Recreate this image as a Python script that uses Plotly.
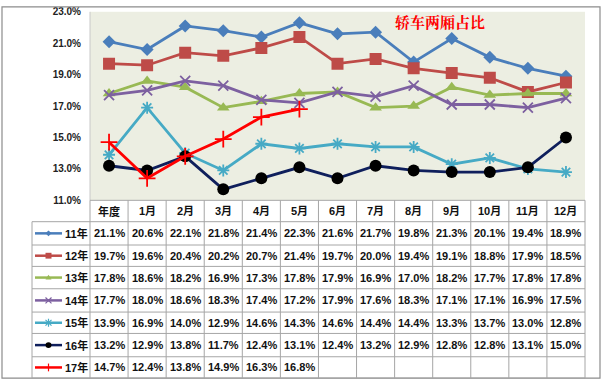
import plotly.graph_objects as go

W, H = 607, 389

categories = ["年度", "1月", "2月", "3月", "4月", "5月", "6月", "7月", "8月", "9月", "10月", "11月", "12月"]
series_names = ["11年", "12年", "13年", "14年", "15年", "16年", "17年"]
s11 = [21.1, 20.6, 22.1, 21.8, 21.4, 22.3, 21.6, 21.7, 19.8, 21.3, 20.1, 19.4, 18.9]
s12 = [19.7, 19.6, 20.4, 20.2, 20.7, 21.4, 19.7, 20.0, 19.4, 19.1, 18.8, 17.9, 18.5]
s13 = [17.8, 18.6, 18.2, 16.9, 17.3, 17.8, 17.9, 16.9, 17.0, 18.2, 17.7, 17.8, 17.8]
s14 = [17.7, 18.0, 18.6, 18.3, 17.4, 17.2, 17.9, 17.6, 18.3, 17.1, 17.1, 16.9, 17.5]
s15 = [13.9, 16.9, 14.0, 12.9, 14.6, 14.3, 14.6, 14.4, 14.4, 13.3, 13.7, 13.0, 12.8]
s16 = [13.2, 12.9, 13.8, 11.7, 12.4, 13.1, 12.4, 13.2, 12.9, 12.8, 12.8, 13.1, 15.0]
s17 = [14.7, 12.4, 13.8, 14.9, 16.3, 16.8]
all_series = [s11, s12, s13, s14, s15, s16, s17]
y_ticks = [11, 13, 15, 17, 19, 21, 23]
title_text = "轿车两厢占比"

line_colors = ["#4A7EBB", "#BE4B48", "#98B954", "#7D60A0", "#46AAC5", "#0F1F5C", "#FF0000"]
marker_colors = ["#4A7EBB", "#BE4B48", "#98B954", "#7D60A0", "#46AAC5", "#000000", "#FF0000"]
symbols = ["diamond", "square", "triangle-up", "x-thin-open", "asterisk-open", "circle", "cross-thin-open"]
msizes = [10, 12, 11, 10, 10, 12, 12]

FONT = "Arial, Liberation Sans, Noto Sans CJK SC, sans-serif"

# layout geometry (pixels)
PX0, PX1 = 90, 585
PY0, PY1 = 7, 201
LBL_X0 = 32
row_lines = [223, 247, 269, 292, 316, 338, 362, 384]


def fx(px):
    return px / W


def fy(py):
    return 1 - py / H


fig = go.Figure()

for name, vals, lc, mc, sym, ms in zip(series_names, all_series, line_colors, marker_colors, symbols, msizes):
    open_sym = sym.endswith("open")
    fig.add_trace(go.Scatter(
        x=list(range(len(vals))), y=vals, mode="lines+markers", name=name,
        line=dict(color=lc, width=2.8),
        marker=dict(symbol=sym, size=ms, color=mc,
                    line=dict(color=mc, width=1.8 if open_sym else 0)),
        showlegend=False, hoverinfo="skip",
    ))

ncol = len(categories)
colw = (PX1 - PX0) / ncol

shapes = []
annotations = []
grid_col = "#A6A6A6"


def path(points, close=True):
    s = "M " + " L ".join("%.5f,%.5f" % (fx(a), fy(b)) for a, b in points)
    return s + (" Z" if close else "")


# legend samples in the label column
for i, (lc, mc, sym) in enumerate(zip(line_colors, marker_colors, symbols)):
    yc = (row_lines[i] + row_lines[i + 1]) / 2
    xa, xb, xm = 35, 62, 48.5
    shapes.append(dict(type="line", xref="paper", yref="paper", x0=fx(xa), x1=fx(xb), y0=fy(yc), y1=fy(yc),
                       line=dict(color=lc, width=2.5)))
    r = 3
    if sym == "diamond":
        shapes.append(dict(type="path", xref="paper", yref="paper",
                           path=path([(xm, yc - r), (xm + r, yc), (xm, yc + r), (xm - r, yc)]),
                           fillcolor=mc, line=dict(width=0)))
    elif sym == "square":
        shapes.append(dict(type="rect", xref="paper", yref="paper", x0=fx(xm - 3), x1=fx(xm + 3),
                           y0=fy(yc + 3), y1=fy(yc - 3), fillcolor=mc, line=dict(width=0)))
    elif sym == "triangle-up":
        shapes.append(dict(type="path", xref="paper", yref="paper",
                           path=path([(xm, yc - r), (xm + r, yc + 2), (xm - r, yc + 2)]),
                           fillcolor=mc, line=dict(width=0)))
    elif sym.startswith("x"):
        shapes.append(dict(type="path", xref="paper", yref="paper",
                           path=path([(xm - r, yc - r), (xm + r, yc + r)], False) + " " +
                           path([(xm - r, yc + r), (xm + r, yc - r)], False),
                           line=dict(color=mc, width=1.2)))
    elif sym.startswith("asterisk"):
        shapes.append(dict(type="path", xref="paper", yref="paper",
                           path=path([(xm - r, yc - r), (xm + r, yc + r)], False) + " " +
                           path([(xm - r, yc + r), (xm + r, yc - r)], False) + " " +
                           path([(xm, yc - r - 1), (xm, yc + r + 1)], False),
                           line=dict(color=mc, width=1.2)))
    elif sym == "circle":
        shapes.append(dict(type="circle", xref="paper", yref="paper", x0=fx(xm - 3), x1=fx(xm + 3),
                           y0=fy(yc + 3), y1=fy(yc - 3), fillcolor=mc, line=dict(width=0)))
    else:
        shapes.append(dict(type="line", xref="paper", yref="paper", x0=fx(xm), x1=fx(xm),
                           y0=fy(yc + r + 1), y1=fy(yc - r - 1), line=dict(color=mc, width=1.2)))

# outer border
shapes.append(dict(type="rect", xref="paper", yref="paper", x0=fx(2), x1=fx(600), y0=fy(384), y1=fy(2),
                   line=dict(color="#8C8C8C", width=1.2)))
# plot-area left line
shapes.append(dict(type="line", xref="paper", yref="paper", x0=fx(PX0), x1=fx(PX0), y0=fy(PY1), y1=fy(PY0),
                   line=dict(color="#C8C8C8", width=1)))

# table horizontal lines
for ly in row_lines:
    shapes.append(dict(type="line", xref="paper", yref="paper", x0=fx(LBL_X0), x1=fx(PX1), y0=fy(ly), y1=fy(ly),
                       line=dict(color=grid_col, width=1)))
shapes.append(dict(type="line", xref="paper", yref="paper", x0=fx(PX0), x1=fx(PX1), y0=fy(PY1), y1=fy(PY1),
                   line=dict(color=grid_col, width=1)))
# vertical lines
shapes.append(dict(type="line", xref="paper", yref="paper", x0=fx(LBL_X0), x1=fx(LBL_X0),
                   y0=fy(row_lines[-1]), y1=fy(row_lines[0]), line=dict(color=grid_col, width=1)))
for k in range(ncol + 1):
    xx = PX0 + k * colw
    shapes.append(dict(type="line", xref="paper", yref="paper", x0=fx(xx), x1=fx(xx), y0=fy(row_lines[-1]),
                       y1=fy(PY1), line=dict(color=grid_col, width=1)))

# header text
for k, c in enumerate(categories):
    annotations.append(dict(xref="paper", yref="paper", x=fx(PX0 + (k + 0.5) * colw), y=fy((PY1 + row_lines[0]) / 2),
                            text="<b>%s</b>" % c, showarrow=False, font=dict(family=FONT, size=11, color="#111111"),
                            xanchor="center", yanchor="middle"))
# row labels and values
for i, (name, vals) in enumerate(zip(series_names, all_series)):
    yc = (row_lines[i] + row_lines[i + 1]) / 2
    annotations.append(dict(xref="paper", yref="paper", x=fx(76), y=fy(yc), text="<b>%s</b>" % name,
                            showarrow=False, font=dict(family=FONT, size=11, color="#111111"),
                            xanchor="center", yanchor="middle"))
    for k, v in enumerate(vals):
        annotations.append(dict(xref="paper", yref="paper", x=fx(PX0 + (k + 0.5) * colw), y=fy(yc),
                                text="<b>%.1f%%</b>" % v, showarrow=False,
                                font=dict(family=FONT, size=11, color="#111111"),
                                xanchor="center", yanchor="middle"))

# title
annotations.append(dict(xref="paper", yref="paper", x=fx(440), y=fy(17), text="<b>%s</b>" % title_text,
                        showarrow=False, font=dict(family="Noto Serif CJK SC, Noto Sans CJK SC, serif", size=15,
                                                   color="#FF0000"),
                        xanchor="center", yanchor="middle"))

fig.update_layout(
    width=W, height=H,
    margin=dict(l=0, r=0, t=0, b=0),
    paper_bgcolor="white",
    plot_bgcolor="#ECEEE2",
    xaxis=dict(domain=[fx(PX0), fx(PX1)], range=[-0.5, ncol - 0.5], visible=False, fixedrange=True),
    yaxis=dict(domain=[fy(PY1), fy(PY0)], range=[11, 23], tickvals=y_ticks,
               ticktext=["<b>%.1f%%</b>" % t for t in y_ticks], showgrid=False, zeroline=False,
               showline=False, ticks="", ticklabelstandoff=8,
               tickfont=dict(family=FONT, size=10, color="#222222"), fixedrange=True),
    shapes=shapes,
    annotations=annotations,
)

fig.write_html("out.html", config={"displayModeBar": False},
               post_script="document.body.style.margin='0';")
